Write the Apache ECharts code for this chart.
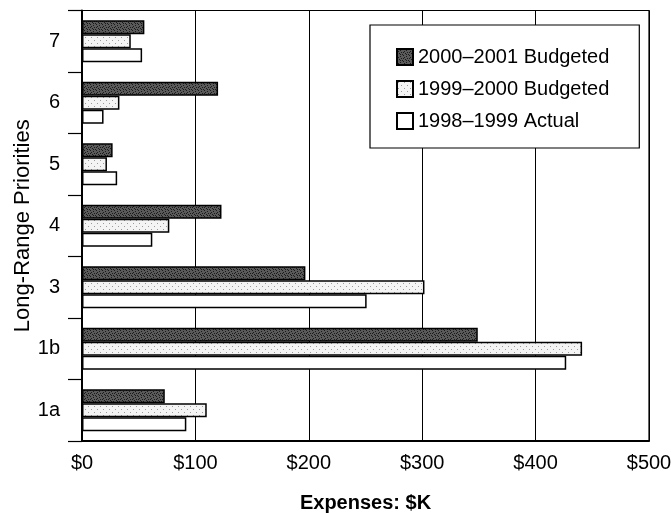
<!DOCTYPE html>
<html>
<head>
<meta charset="utf-8">
<script src="https://cdn.jsdelivr.net/npm/echarts@6/dist/echarts.min.js"></script>
<style>
html,body{margin:0;padding:0;background:#fff;}
#chart{width:671px;height:513px;}
</style>
</head>
<body>
<div id="chart"></div>
<script>
var categories = ['7', '6', '5', '4', '3', '1b', '1a'];
var budget2000_2001 = [55, 120, 27, 123, 197, 349, 73];
var budget1999_2000 = [43, 33, 22, 77, 302, 441, 110];
var actual1998_1999 = [53, 19, 31, 62, 251, 427, 92];
var xTicks = [0, 100, 200, 300, 400, 500];
var seriesNames = ['2000\u20132001 Budgeted', '1999\u20132000 Budgeted', '1998\u20131999 Actual'];

var FONT = '"Liberation Sans", Arial, Helvetica, sans-serif';
var chart = echarts.init(document.getElementById('chart'), null, {renderer: 'canvas'});

// deterministic stipple textures (purely decorative fills)
function pattern(bg, dot, cells) {
  var c = document.createElement('canvas');
  c.width = 6; c.height = 6;
  var g = c.getContext('2d');
  g.fillStyle = bg; g.fillRect(0, 0, 6, 6);
  g.fillStyle = dot;
  cells.forEach(function (p) { g.fillRect(p[0], p[1], 1, 1); });
  return {image: c, repeat: 'repeat'};
}
var darkFill = pattern('#5a5a5a', '#1a1a1a', [[0,0],[3,1],[1,2],[4,3],[2,4],[5,5],[0,3],[3,5]]);
var lightFill = pattern('#f4f4f4', '#9a9a9a', [[1,1],[4,4]]);

function mkSeries(name, data, fill) {
  return {
    name: name,
    type: 'bar',
    data: data,
    barGap: '0%',
    barCategoryGap: '32%',
    itemStyle: {color: fill, borderColor: '#000', borderWidth: 1.5},
    emphasis: {disabled: true},
    animation: false
  };
}

chart.setOption({
  backgroundColor: '#fff',
  animation: false,
  textStyle: {fontFamily: FONT, color: '#000'},
  grid: {left: 82, right: 22, top: 10.5, bottom: 72, show: true, borderColor: '#000', borderWidth: 1.2, outerBoundsMode: 'none', containLabel: false},
  legend: {
    orient: 'vertical',
    left: 370, top: 25,
    padding: [22, 30, 17, 26],
    itemGap: 12,
    itemWidth: 16, itemHeight: 16,
    backgroundColor: '#fff',
    borderColor: '#000', borderWidth: 1.2,
    textStyle: {fontFamily: FONT, fontSize: 20, color: '#000'},
    data: seriesNames.map(function (n) { return {name: n, icon: 'rect'}; })
  },
  xAxis: {
    type: 'value',
    min: xTicks[0], max: xTicks[xTicks.length - 1], interval: 100,
    name: 'Expenses: $K',
    nameLocation: 'middle',
    nameGap: 52,
    nameMoveOverlap: false,
    nameTextStyle: {fontFamily: FONT, fontSize: 20, fontWeight: 'bold', color: '#000'},
    axisLine: {show: true, lineStyle: {color: '#000', width: 2}},
    axisTick: {show: false},
    axisLabel: {fontFamily: FONT, fontSize: 20, color: '#000', margin: 12, formatter: function (v) { return '$' + v; }},
    splitLine: {show: true, lineStyle: {color: '#000', width: 1}}
  },
  yAxis: {
    type: 'category',
    data: categories,
    inverse: true,
    name: 'Long-Range Priorities',
    nameLocation: 'middle',
    nameGap: 48,
    nameMoveOverlap: false,
    nameRotate: 90,
    nameTextStyle: {fontFamily: FONT, fontSize: 22, color: '#000'},
    axisLine: {show: true, lineStyle: {color: '#000', width: 2}},
    axisTick: {show: true, length: 14, lineStyle: {color: '#000', width: 1.2}},
    axisLabel: {fontFamily: FONT, fontSize: 20, color: '#000', margin: 22},
    splitLine: {show: false}
  },
  series: [
    mkSeries(seriesNames[0], budget2000_2001, darkFill),
    mkSeries(seriesNames[1], budget1999_2000, lightFill),
    mkSeries(seriesNames[2], actual1998_1999, '#ffffff')
  ]
});
</script>
</body>
</html>
